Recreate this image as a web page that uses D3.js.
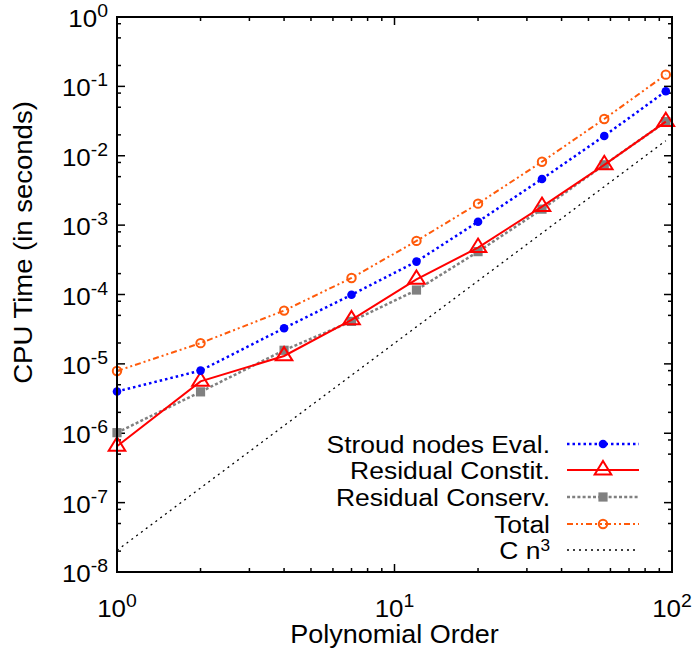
<!DOCTYPE html>
<html><head><meta charset="utf-8">
<script src="https://cdn.jsdelivr.net/npm/d3@7"></script>
<style>body{margin:0;background:#fff}svg{display:block}text{font-family:"Liberation Sans",Arial,sans-serif;fill:#000}</style>
</head><body><svg id="c" width="695" height="657"></svg>
<script>
// ---- data ----
const orders = [1, 2, 4, 7, 12, 20, 34, 57, 95];
const stroud   = [4.0e-6, 8.0e-6, 3.27e-5, 9.9e-5, 2.98e-4, 1.12e-3, 4.63e-3, 1.93e-2, 8.5e-2];
const constit  = [6.5e-7, 5.6e-6, 1.3e-5, 4.3e-5, 1.65e-4, 4.75e-4, 1.85e-3, 7.4e-3, 3.1e-2];
const conserv  = [1.02e-6, 3.95e-6, 1.57e-5, 4.1e-5, 1.16e-4, 4.15e-4, 1.7e-3, 7.4e-3, 3.1e-2];
const total    = [7.9e-6, 1.99e-5, 5.86e-5, 1.73e-4, 5.92e-4, 2.04e-3, 8.2e-3, 3.39e-2, 0.1475];
const cn3Orders = [1, 95];
const cn3Values = [2.05e-8, 0.0165];
const xMajorTicks = [1, 10, 100];
const xMajorExp = ["0", "1", "2"];
const yMajorTicks = [1e-8, 1e-7, 1e-6, 1e-5, 1e-4, 1e-3, 1e-2, 1e-1, 1];
const yMajorExp = ["-8", "-7", "-6", "-5", "-4", "-3", "-2", "-1", "0"];
const xMinorMult = [2, 3, 4, 5, 6, 7, 8, 9];
const yMinorMult = [2, 5, 8];
const legendLabels = ["Stroud nodes Eval.", "Residual Constit.", "Residual Conserv.", "Total", "C n"];

// ---- layout ----
const W = 695, H = 657;
const m = {l: 117, r: 23, t: 17, b: 85};
const x = d3.scaleLog().domain([1, 100]).range([m.l, W - m.r]);
const y = d3.scaleLog().domain([1e-8, 1]).range([H - m.b, m.t]);
const svg = d3.select("#c");
const SX = 1.08; // horizontal text stretch seen in the reference

const series = [
  {name: legendLabels[0], vals: stroud, color: "#0000ff", width: 2.5, dash: "2.5,3", marker: "dot"},
  {name: legendLabels[1], vals: constit, color: "#ff0000", width: 2, dash: null, marker: "tri"},
  {name: legendLabels[2], vals: conserv, color: "#808080", width: 2.5, dash: "3,2.2", marker: "sq"},
  {name: legendLabels[3], vals: total, color: "#ff5a0a", width: 2, dash: "6,3,2,3,2,3", marker: "circ"},
];

svg.append("clipPath").attr("id","clip").append("rect")
  .attr("x", m.l).attr("y", m.t).attr("width", W-m.l-m.r).attr("height", H-m.t-m.b);

// ticks
const tg = svg.append("g").attr("stroke", "#000").attr("stroke-width", 1.5);
const x0 = x.range()[0], x1 = x.range()[1], y0 = y.range()[0], y1 = y.range()[1];
function xTick(v, len){
  tg.append("line").attr("x1", x(v)).attr("x2", x(v)).attr("y1", y0).attr("y2", y0-len);
  tg.append("line").attr("x1", x(v)).attr("x2", x(v)).attr("y1", y1).attr("y2", y1+len);
}
function yTick(v, len){
  tg.append("line").attr("y1", y(v)).attr("y2", y(v)).attr("x1", x0).attr("x2", x0+len);
  tg.append("line").attr("y1", y(v)).attr("y2", y(v)).attr("x1", x1).attr("x2", x1-len);
}
xMajorTicks.forEach(v => xTick(v, 8));
xMajorTicks.slice(0, -1).forEach(d => xMinorMult.forEach(k => xTick(d*k, 4)));
yMajorTicks.forEach(v => yTick(v, 8));
yMajorTicks.slice(0, -1).forEach(d => yMinorMult.forEach(k => yTick(d*k, 4)));

// cn3 line
const line = d3.line().x(d => x(d[0])).y(d => y(d[1]));
const plot = svg.append("g").attr("clip-path", "url(#clip)");
plot.append("path").datum(d3.zip(cn3Orders, cn3Values)).attr("d", line)
  .attr("fill","none").attr("stroke","#000").attr("stroke-width",1.3).attr("stroke-dasharray","2,4");

function drawMarker(g, type, cx, cy, color){
  if (type === "dot") g.append("circle").attr("cx",cx).attr("cy",cy).attr("r",4.3).attr("fill",color);
  else if (type === "sq") g.append("rect").attr("x",cx-4.6).attr("y",cy-4.6).attr("width",9.2).attr("height",9.2).attr("fill",color);
  else if (type === "circ") g.append("circle").attr("cx",cx).attr("cy",cy).attr("r",4.2).attr("fill","none").attr("stroke",color).attr("stroke-width",2);
  else if (type === "tri") g.append("path").attr("d",`M${cx},${cy-9}L${cx+8.3},${cy+4.4}L${cx-8.3},${cy+4.4}Z`)
    .attr("fill","none").attr("stroke",color).attr("stroke-width",2);
}

[2, 1, 0, 3].forEach(i => {
  const s = series[i];
  const pts = d3.zip(orders, s.vals);
  const p = svg.append("path").datum(pts).attr("d", line).attr("fill","none")
    .attr("stroke", s.color).attr("stroke-width", s.width);
  if (s.dash) p.attr("stroke-dasharray", s.dash);
  const g = svg.append("g");
  pts.forEach(d => drawMarker(g, s.marker, x(d[0]), y(d[1]), s.color));
});

// frame
svg.append("rect").attr("x", x0).attr("y", y1).attr("width", x1-x0).attr("height", y0-y1)
  .attr("fill","none").attr("stroke","#000").attr("stroke-width",2);

// helper: text positioned via transform with horizontal stretch
function stretchedText(px, py, anchor, size){
  return svg.append("text").attr("transform", `translate(${px},${py}) scale(${SX},1)`)
    .attr("text-anchor", anchor).attr("font-size", size);
}

// tick labels
xMajorTicks.forEach((v, i) => {
  const t = stretchedText(x(v), 617, "middle", 24);
  t.append("tspan").text("10");
  t.append("tspan").attr("dy",-10).attr("font-size",18).text(xMajorExp[i]);
});
yMajorTicks.forEach((v, i) => {
  const t = stretchedText(108, y(v)+10, "end", 24);
  t.append("tspan").text("10");
  t.append("tspan").attr("dy",-10).attr("font-size",18).text(yMajorExp[i]);
});

// axis titles
stretchedText((x0+x1)/2, 643, "middle", 25).text("Polynomial Order");
svg.append("text").attr("transform", `translate(32,${(y0+y1)/2 - 52}) rotate(-90) scale(1.1,1)`).attr("text-anchor","middle")
  .attr("font-size",25).text("CPU Time (in seconds)");

// legend
const legY = [444, 470, 497, 524, 550];
series.forEach((s, i) => {
  stretchedText(550, legY[i]+9, "end", 24.5).text(s.name);
  const l = svg.append("line").attr("x1",567).attr("x2",639).attr("y1",legY[i]).attr("y2",legY[i])
    .attr("stroke", s.color).attr("stroke-width", s.width);
  if (s.dash) l.attr("stroke-dasharray", s.dash);
  drawMarker(svg, s.marker, 603, legY[i], s.color);
});
const ct = stretchedText(550, legY[4]+9, "end", 24.5);
ct.append("tspan").text(legendLabels[4]);
ct.append("tspan").attr("dy",-8).attr("font-size",16).text("3");
svg.append("line").attr("x1",567).attr("x2",639).attr("y1",legY[4]).attr("y2",legY[4])
  .attr("stroke","#000").attr("stroke-width",1.3).attr("stroke-dasharray","2,4");
</script></body></html>
